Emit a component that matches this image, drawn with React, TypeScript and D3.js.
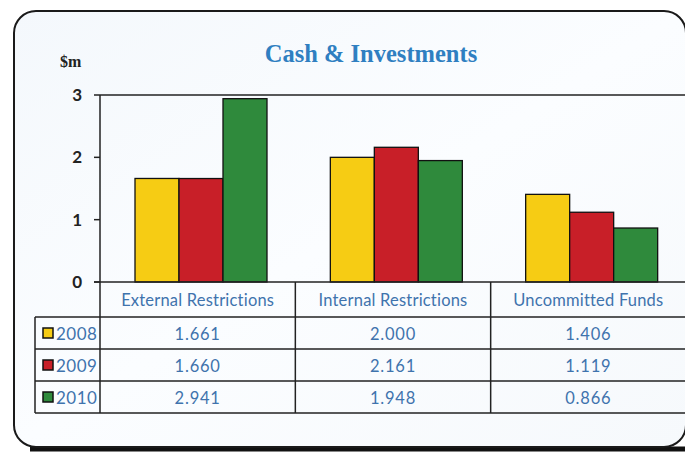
import React from "react";
import * as d3 from "d3";

const categories = ["External Restrictions", "Internal Restrictions", "Uncommitted Funds"];
const years = ["2008", "2009", "2010"];
const values2008 = [1.661, 2.0, 1.406];
const values2009 = [1.66, 2.161, 1.119];
const values2010 = [2.941, 1.948, 0.866];
const yTicks = [0, 1, 2, 3];
const seriesValues = [values2008, values2009, values2010];
const colors = ["#f6cc14", "#c81f28", "#2f8a3c"];

const W = 685;
const H = 452;
const plotLeft = 100;
const plotRight = 686;
const plotTop = 95;
const plotBottom = 282;
const rowH = 32;
const legendLeft = 35;
const textColor = "#3f73ad";
const tableFont = "Lato, 'Open Sans', sans-serif";

export default function App() {
  const x0 = d3.scaleBand<string>().domain(categories).range([plotLeft, plotRight]).padding(0);
  const x1 = d3.scaleBand<string>().domain(years).range([35, 167]).padding(0);
  const y = d3.scaleLinear().domain([0, 3]).range([plotBottom, plotTop]);
  const fmt = d3.format(".3f");

  const headerBottom = plotBottom + 35;
  const rowTop = (i: number) => headerBottom + i * rowH;
  const tableBottom = rowTop(years.length);

  return (
    <svg width={W} height={H} style={{ position: "absolute", left: 0, top: 0, background: "#fff" }}>
      <defs>
        <linearGradient id="bg" x1="0" y1="0" x2="1" y2="1">
          <stop offset="0" stopColor="#f4f8fc" />
          <stop offset="0.5" stopColor="#fbfdff" />
          <stop offset="1" stopColor="#f6f9fc" />
        </linearGradient>
      </defs>
      {/* card */}
      <path d="M 30 449 L 686 449" stroke="#111" strokeWidth={5} />
      <rect x={14} y={11} width={672} height={436} rx={22} ry={22} fill="url(#bg)" stroke="#1a1a1a" strokeWidth={2} />

      {/* title */}
      <text
        x={371}
        y={62}
        textAnchor="middle"
        fontFamily="'Liberation Serif', 'DejaVu Serif', serif"
        fontWeight="bold"
        fontSize={24.5}
        fill="#2f7fc1"
      >
        Cash &amp; Investments
      </text>
      <text x={60} y={67} fontFamily="'Liberation Serif', serif" fontWeight="bold" fontSize={16} fill="#222">
        $m
      </text>

      {/* plot frame */}
      <line x1={plotLeft} x2={plotRight} y1={plotTop} y2={plotTop} stroke="#222" strokeWidth={1.5} />
      <line x1={plotLeft} x2={plotLeft} y1={plotTop} y2={tableBottom} stroke="#222" strokeWidth={1.5} />

      {/* y ticks */}
      {yTicks.map((t) => (
        <g key={t}>
          <line x1={plotLeft - 6} x2={plotLeft} y1={y(t)} y2={y(t)} stroke="#222" strokeWidth={1.5} />
          <text
            x={82}
            y={y(t)}
            dy="0.35em"
            textAnchor="end"
            fontFamily={tableFont}
            fontWeight="bold"
            fontSize={17}
            fill="#222"
          >
            {t}
          </text>
        </g>
      ))}

      {/* bars */}
      {categories.map((c, ci) => (
        <g key={c} transform={`translate(${x0(c)},0)`}>
          {years.map((yr, si) => {
            const v = seriesValues[si][ci];
            return (
              <rect
                key={yr}
                x={x1(yr)}
                y={y(v)}
                width={x1.bandwidth()}
                height={y(0) - y(v)}
                fill={colors[si]}
                stroke="#111"
                strokeWidth={1.3}
              />
            );
          })}
        </g>
      ))}

      {/* baseline */}
      <line x1={plotLeft - 6} x2={plotRight} y1={plotBottom} y2={plotBottom} stroke="#222" strokeWidth={1.5} />

      {/* table grid */}
      {years.map((yr, i) => (
        <line key={yr} x1={legendLeft} x2={plotRight} y1={rowTop(i)} y2={rowTop(i)} stroke="#222" strokeWidth={1.5} />
      ))}
      <line x1={legendLeft} x2={plotRight} y1={tableBottom} y2={tableBottom} stroke="#222" strokeWidth={1.5} />
      <line x1={legendLeft} x2={legendLeft} y1={headerBottom} y2={tableBottom} stroke="#222" strokeWidth={1.5} />
      {categories.slice(1).map((c) => (
        <line key={c} x1={x0(c)} x2={x0(c)} y1={plotBottom} y2={tableBottom} stroke="#222" strokeWidth={1.5} />
      ))}

      {/* header */}
      {categories.map((c) => (
        <text
          key={c}
          x={(x0(c) as number) + x0.bandwidth() / 2}
          y={306}
          textAnchor="middle"
          fontFamily={tableFont}
          fontSize={16.5}
          fill={textColor}
          letterSpacing={0.2}
        >
          {c}
        </text>
      ))}

      {/* rows */}
      {years.map((yr, si) => (
        <g key={yr}>
          <rect x={43} y={rowTop(si) + 11} width={10} height={10} fill={colors[si]} stroke="#111" strokeWidth={1.5} />
          <text x={56} y={rowTop(si) + 23} fontFamily={tableFont} fontSize={17} fill={textColor} letterSpacing={0.5}>
            {yr}
          </text>
          {categories.map((c, ci) => (
            <text
              key={c}
              x={(x0(c) as number) + x0.bandwidth() / 2}
              y={rowTop(si) + 23}
              textAnchor="middle"
              fontFamily={tableFont}
              fontSize={16.5}
              fill={textColor}
              letterSpacing={0.8}
            >
              {fmt(seriesValues[si][ci])}
            </text>
          ))}
        </g>
      ))}
    </svg>
  );
}
